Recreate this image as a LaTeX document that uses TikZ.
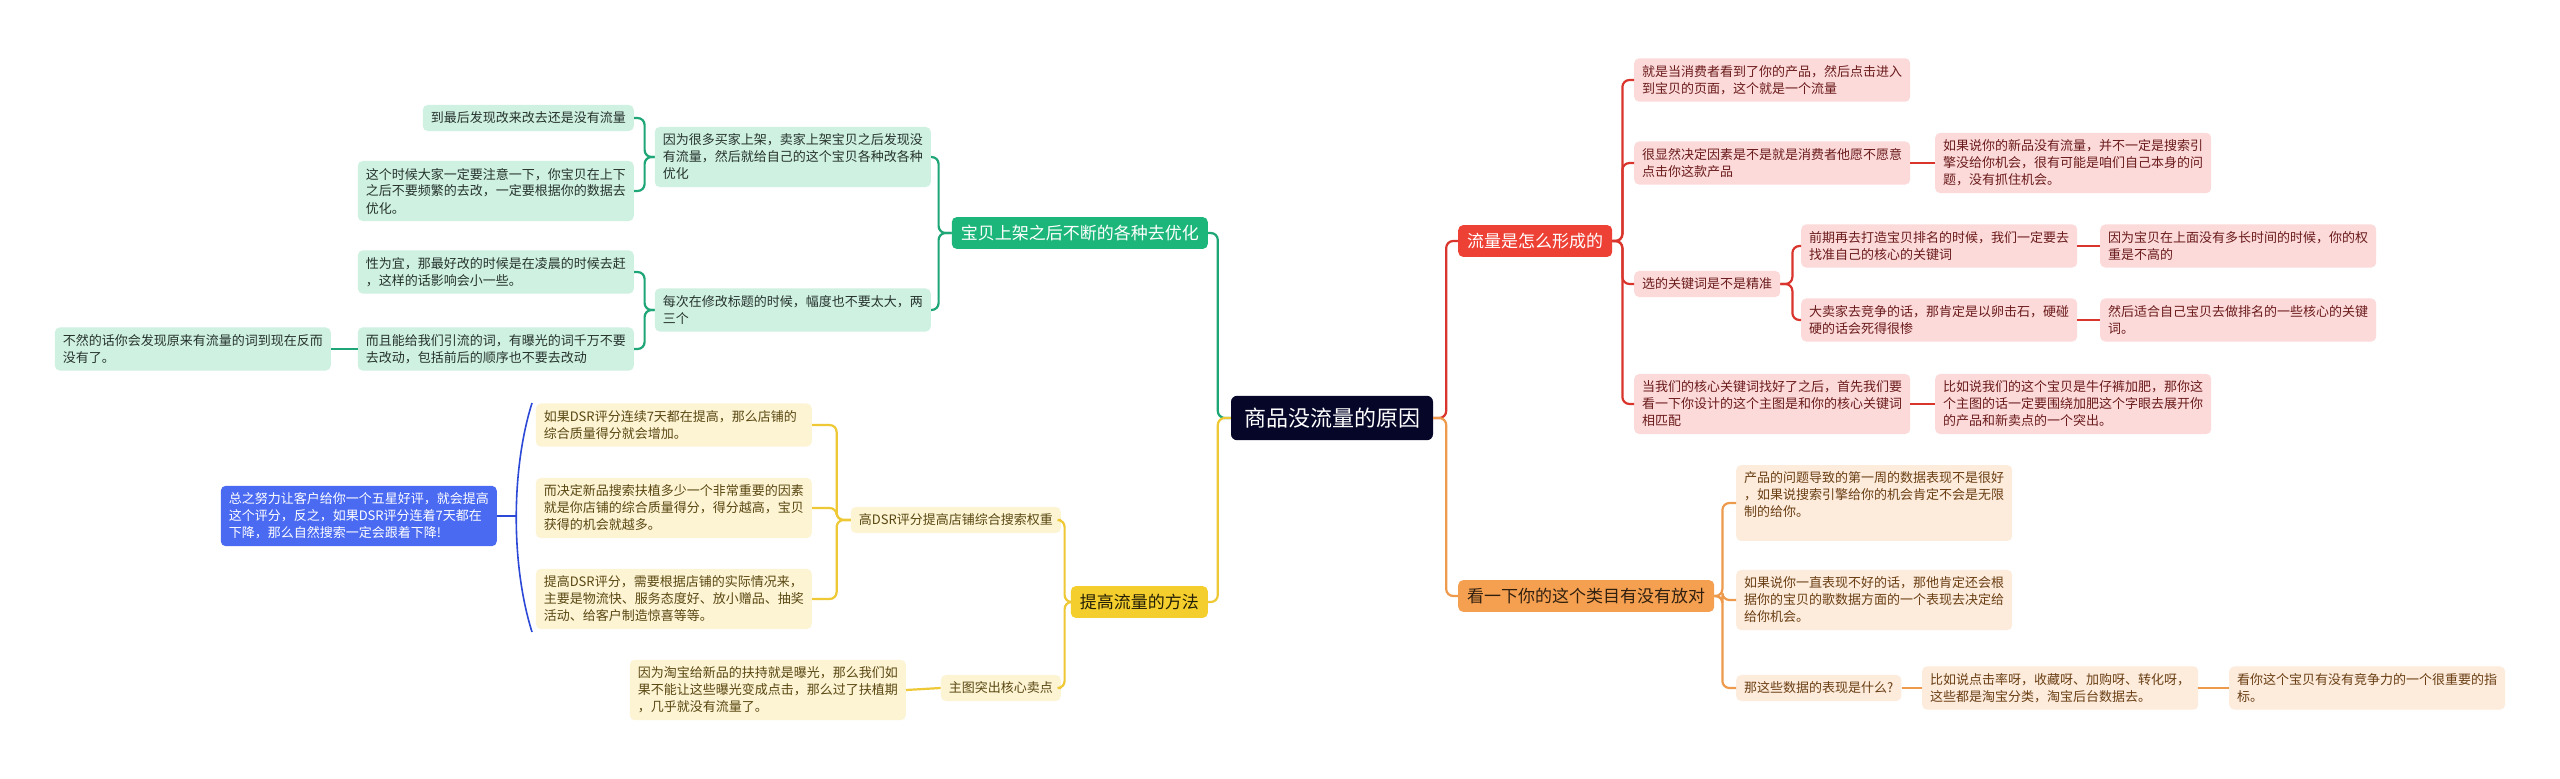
\documentclass[tikz,border=0pt]{standalone}
\usepackage{fontspec}
\setmainfont{Noto Sans CJK SC}
\definecolor{rootc}{HTML}{050628}
\definecolor{gmain}{HTML}{1CB67A}
\definecolor{glin}{HTML}{1EA676}
\definecolor{gfill}{HTML}{CFF1E2}
\definecolor{gtext}{HTML}{26332C}
\definecolor{ymain}{HTML}{F3CE2C}
\definecolor{ylin}{HTML}{EEC935}
\definecolor{yfill}{HTML}{FDF4D4}
\definecolor{ytext}{HTML}{5A4812}
\definecolor{rmain}{HTML}{EE4136}
\definecolor{rlin}{HTML}{D9352C}
\definecolor{rfill}{HTML}{FDDADA}
\definecolor{rtext}{HTML}{6A1B1B}
\definecolor{omain}{HTML}{F4A050}
\definecolor{olin}{HTML}{EE9A4C}
\definecolor{ofill}{HTML}{FDEBDC}
\definecolor{otext}{HTML}{6A3F14}
\definecolor{bmain}{HTML}{4A6AF2}
\definecolor{blin}{HTML}{2B49D6}
\begin{document}
\begin{tikzpicture}[x=1pt,y=-1pt,
  box/.style={rounded corners=5pt, inner xsep=8pt, inner ysep=7pt, font=\fontsize{13}{17}\selectfont, align=left},
  wide/.style={box, text width=260pt},
  gb/.style={fill=gfill, text=gtext},
  yb/.style={fill=yfill, text=ytext},
  rb/.style={fill=rfill, text=rtext},
  ob/.style={fill=ofill, text=otext},
  lone/.style={rounded corners=5pt, inner xsep=9pt, inner ysep=8pt, font=\fontsize{17}{20}\selectfont},
  cn/.style={line width=2.2pt, rounded corners=7pt},
  gl/.style={cn, draw=glin},
  yl/.style={cn, draw=ylin},
  rl/.style={cn, draw=rlin},
  ol/.style={cn, draw=olin},
]
\fill[white] (0,0) rectangle (2560,779);
\useasboundingbox (0,0) rectangle (2560,779);

% root
\node[rounded corners=6pt, fill=rootc, text=white, inner xsep=13pt, inner ysep=12pt, font=\fontsize{22}{26}\selectfont] (root) at (1332,418) {商品没流量的原因};

% ---------- green branch ----------
\node[lone, fill=gmain, text=white, anchor=east] (G1) at (1208,233) {宝贝上架之后不断的各种去优化};
\node[wide, gb, anchor=east] (ga) at (931,157) {因为很多买家上架，卖家上架宝贝之后发现没\\有流量，然后就给自己的这个宝贝各种改各种\\优化};
\node[wide, gb, anchor=east] (gbx) at (931,310) {每次在修改标题的时候，幅度也不要太大，两\\三个};
\node[box, gb, anchor=east] (ga1) at (634,118) {到最后发现改来改去还是没有流量};
\node[wide, gb, anchor=east] (ga2) at (634,191) {这个时候大家一定要注意一下，你宝贝在上下\\之后不要频繁的去改，一定要根据你的数据去\\优化。};
\node[wide, gb, anchor=east] (gb1) at (634,272) {性为宜，那最好改的时候是在凌晨的时候去赶\\，这样的话影响会小一些。};
\node[wide, gb, anchor=east] (gb2) at (634,349) {而且能给我们引流的词，有曝光的词千万不要\\去改动，包括前后的顺序也不要去改动};
\node[wide, gb, anchor=east] (gb2c) at (331,349) {不然的话你会发现原来有流量的词到现在反而\\没有了。};

\draw[gl] (root.west) -- ++(-13,0) |- (G1.east);
\draw[gl] (G1.west) -- ++(-13,0) |- (ga.east);
\draw[gl] (G1.west) -- ++(-13,0) |- (gbx.east);
\draw[gl] (ga.west) -- ++(-10,0) |- (ga1.east);
\draw[gl] (ga.west) -- ++(-10,0) |- (ga2.east);
\draw[gl] (gbx.west) -- ++(-10,0) |- (gb1.east);
\draw[gl] (gbx.west) -- ++(-10,0) |- (gb2.east);
\draw[gl] (gb2.west) -- (gb2c.east);

% ---------- yellow branch ----------
\node[lone, fill=ymain, text=black!85!ymain, anchor=east] (Y1) at (1208,602) {提高流量的方法};
\node[box, yb, anchor=east] (yc) at (1061,520) {高DSR评分提高店铺综合搜索权重};
\node[box, yb, anchor=east] (yd) at (1061,688) {主图突出核心卖点};
\node[wide, yb, anchor=east] (yc1) at (812,425) {如果DSR评分连续7天都在提高，那么店铺的\\综合质量得分就会增加。};
\node[wide, yb, anchor=east] (yc2) at (812,508) {而决定新品搜索扶植多少一个非常重要的因素\\就是你店铺的综合质量得分，得分越高，宝贝\\获得的机会就越多。};
\node[wide, yb, anchor=east] (yc3) at (812,599) {提高DSR评分，需要根据店铺的实际情况来，\\主要是物流快、服务态度好、放小赠品、抽奖\\活动、给客户制造惊喜等等。};
\node[wide, yb, anchor=east] (ydc) at (906,690) {因为淘宝给新品的扶持就是曝光，那么我们如\\果不能让这些曝光变成点击，那么过了扶植期\\，几乎就没有流量了。};
\node[wide, fill=bmain, text=white, anchor=east] (blue) at (497,516) {总之努力让客户给你一个五星好评，就会提高\\这个评分，反之，如果DSR评分连着7天都在\\下降，那么自然搜索一定会跟着下降!};

\draw[yl] (root.west) -- ++(-13,0) |- (Y1.east);
\draw[yl] (Y1.west) -- ++(-6,0) |- (yc.east);
\draw[yl] (Y1.west) -- ++(-6,0) |- (yd.east);
\draw[yl] (yc.west) -- ++(-14,0) |- (yc1.east);
\draw[yl] (yc.west) -- ++(-14,0) |- (yc2.east);
\draw[yl] (yc.west) -- ++(-14,0) |- (yc3.east);
\draw[yl] (yd.west) -- (ydc.east);

\coordinate (bt) at (532,403);
\coordinate (bbot) at (532,632);
\coordinate (bm) at (517,516);
\draw[blin, line width=1.6pt] (bt) .. controls (511,470) and (511,565) .. (bbot);
\draw[blin, line width=1.6pt] (bm) -- (blue.east);

% ---------- red branch ----------
\node[lone, fill=rmain, text=white, anchor=west] (R1) at (1458,241) {流量是怎么形成的};
\node[wide, rb, anchor=west] (r1) at (1634,80) {就是当消费者看到了你的产品，然后点击进入\\到宝贝的页面，这个就是一个流量};
\node[wide, rb, anchor=west] (r2) at (1634,163) {很显然决定因素是不是就是消费者他愿不愿意\\点击你这款产品};
\node[box, rb, anchor=west] (r3) at (1634,284) {选的关键词是不是精准};
\node[wide, rb, anchor=west] (r4) at (1634,404) {当我们的核心关键词找好了之后，首先我们要\\看一下你设计的这个主图是和你的核心关键词\\相匹配};
\node[wide, rb, anchor=west] (r2c) at (1935,163) {如果说你的新品没有流量，并不一定是搜索引\\擎没给你机会，很有可能是咱们自己本身的问\\题，没有抓住机会。};
\node[wide, rb, anchor=west] (r3a) at (1801,246) {前期再去打造宝贝排名的时候，我们一定要去\\找准自己的核心的关键词};
\node[wide, rb, anchor=west] (r3b) at (1801,320) {大卖家去竞争的话，那肯定是以卵击石，硬碰\\硬的话会死得很惨};
\node[wide, rb, anchor=west] (r3ac) at (2100,246) {因为宝贝在上面没有多长时间的时候，你的权\\重是不高的};
\node[wide, rb, anchor=west] (r3bc) at (2100,320) {然后适合自己宝贝去做排名的一些核心的关键\\词。};
\node[wide, rb, anchor=west] (r4c) at (1935,404) {比如说我们的这个宝贝是牛仔裤加肥，那你这\\个主图的话一定要围绕加肥这个字眼去展开你\\的产品和新卖点的一个突出。};

\draw[rl] (root.east) -- ++(13,0) |- (R1.west);
\draw[rl] (R1.east) -- ++(10,0) |- (r1.west);
\draw[rl] (R1.east) -- ++(10,0) |- (r2.west);
\draw[rl] (R1.east) -- ++(10,0) |- (r3.west);
\draw[rl] (R1.east) -- ++(10,0) |- (r4.west);
\draw[rl] (r2.east) -- (r2c.west);
\draw[rl] (r3.east) -- ++(12,0) |- (r3a.west);
\draw[rl] (r3.east) -- ++(12,0) |- (r3b.west);
\draw[rl] (r3a.east) -- (r3ac.west);
\draw[rl] (r3b.east) -- (r3bc.west);
\draw[rl] (r4.east) -- (r4c.west);

% ---------- orange branch ----------
\node[lone, fill=omain, text=black!80!omain, anchor=west] (O1) at (1458,596) {看一下你的这个类目有没有放对};
\node[wide, ob, anchor=west] (o1) at (1736,503) {产品的问题导致的第一周的数据表现不是很好\\，如果说搜索引擎给你的机会肯定不会是无限\\制的给你。\\\mbox{}};
\node[wide, ob, anchor=west] (o2) at (1736,600) {如果说你一直表现不好的话，那他肯定还会根\\据你的宝贝的歌数据方面的一个表现去决定给\\给你机会。};
\node[box, ob, anchor=west] (o3) at (1736,688) {那这些数据的表现是什么?};
\node[wide, ob, anchor=west] (o3c) at (1922,688) {比如说点击率呀，收藏呀、加购呀、转化呀，\\这些都是淘宝分类，淘宝后台数据去。};
\node[wide, ob, anchor=west] (o3cc) at (2229,688) {看你这个宝贝有没有竞争力的一个很重要的指\\标。};

\draw[ol] (root.east) -- ++(13,0) |- (O1.west);
\draw[ol] (O1.east) -- ++(8,0) |- (o1.west);
\draw[ol] (O1.east) -- ++(8,0) |- (o2.west);
\draw[ol] (O1.east) -- ++(8,0) |- (o3.west);
\draw[ol] (o3.east) -- (o3c.west);
\draw[ol] (o3c.east) -- (o3cc.west);
\end{tikzpicture}
\end{document}
